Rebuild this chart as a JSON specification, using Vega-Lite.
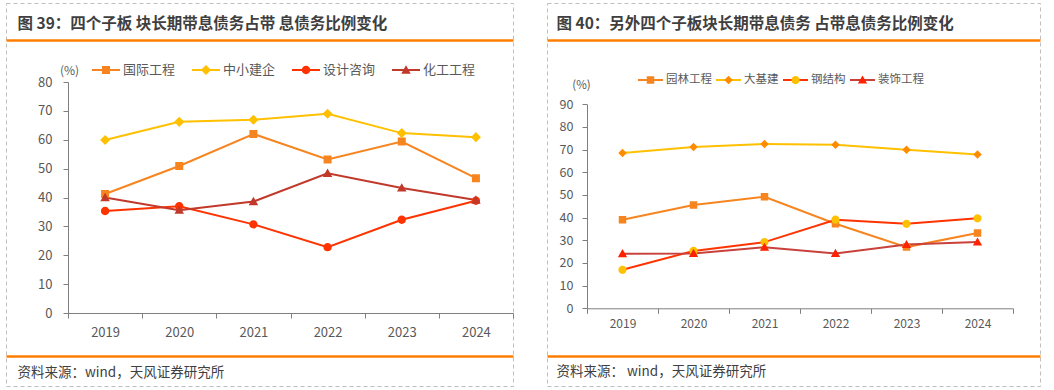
{
  "$schema": "https://vega.github.io/schema/vega-lite/v6.json",
  "background": "white",
  "padding": {"left": 5, "top": 2, "right": 15, "bottom": 5},
  "spacing": 34,
  "bounds": "flush",
  "datasets": {
    "left": [
      {"year": "2019", "series": "国际工程", "value": 41.2},
      {"year": "2020", "series": "国际工程", "value": 50.9},
      {"year": "2021", "series": "国际工程", "value": 62.0},
      {"year": "2022", "series": "国际工程", "value": 53.2},
      {"year": "2023", "series": "国际工程", "value": 59.4},
      {"year": "2024", "series": "国际工程", "value": 46.7},
      {"year": "2019", "series": "中小建企", "value": 59.9},
      {"year": "2020", "series": "中小建企", "value": 66.2},
      {"year": "2021", "series": "中小建企", "value": 66.9},
      {"year": "2022", "series": "中小建企", "value": 69.0},
      {"year": "2023", "series": "中小建企", "value": 62.3},
      {"year": "2024", "series": "中小建企", "value": 60.9},
      {"year": "2019", "series": "设计咨询", "value": 35.3},
      {"year": "2020", "series": "设计咨询", "value": 37.0},
      {"year": "2021", "series": "设计咨询", "value": 30.7},
      {"year": "2022", "series": "设计咨询", "value": 22.8},
      {"year": "2023", "series": "设计咨询", "value": 32.3},
      {"year": "2024", "series": "设计咨询", "value": 38.9},
      {"year": "2019", "series": "化工工程", "value": 40.0},
      {"year": "2020", "series": "化工工程", "value": 35.6},
      {"year": "2021", "series": "化工工程", "value": 38.6},
      {"year": "2022", "series": "化工工程", "value": 48.4},
      {"year": "2023", "series": "化工工程", "value": 43.3},
      {"year": "2024", "series": "化工工程", "value": 39.1}
    ],
    "right": [
      {"year": "2019", "series": "园林工程", "value": 39.1},
      {"year": "2020", "series": "园林工程", "value": 45.6},
      {"year": "2021", "series": "园林工程", "value": 49.2},
      {"year": "2022", "series": "园林工程", "value": 37.3},
      {"year": "2023", "series": "园林工程", "value": 27.0},
      {"year": "2024", "series": "园林工程", "value": 33.2},
      {"year": "2019", "series": "大基建", "value": 68.5},
      {"year": "2020", "series": "大基建", "value": 71.2},
      {"year": "2021", "series": "大基建", "value": 72.5},
      {"year": "2022", "series": "大基建", "value": 72.2},
      {"year": "2023", "series": "大基建", "value": 70.0},
      {"year": "2024", "series": "大基建", "value": 67.9},
      {"year": "2019", "series": "钢结构", "value": 17.0},
      {"year": "2020", "series": "钢结构", "value": 25.3},
      {"year": "2021", "series": "钢结构", "value": 29.2},
      {"year": "2022", "series": "钢结构", "value": 39.1},
      {"year": "2023", "series": "钢结构", "value": 37.3},
      {"year": "2024", "series": "钢结构", "value": 39.7},
      {"year": "2019", "series": "装饰工程", "value": 24.1},
      {"year": "2020", "series": "装饰工程", "value": 24.2},
      {"year": "2021", "series": "装饰工程", "value": 26.9},
      {"year": "2022", "series": "装饰工程", "value": 24.2},
      {"year": "2023", "series": "装饰工程", "value": 28.1},
      {"year": "2024", "series": "装饰工程", "value": 29.2}
    ]
  },
  "hconcat": [
    {
      "width": 507,
      "height": 383,
      "data": {"name": "left"},
      "layer": [
        {
          "mark": {"type": "text"},
          "encoding": {
            "x": {"field": "year", "type": "ordinal", "scale": {"type": "band", "range": [0, 507]},
              "axis": {"orient": "top", "offset": -37, "labels": false, "ticks": false, "grid": false,
                "domainColor": "#FF7E00", "domainWidth": 2.5,
                "title": "图 39：四个子板 块长期带息债务占带 息债务比例变化",
                "titleX": 11, "titleY": -17, "titleAlign": "left", "titleBaseline": "middle",
                "titleFontSize": 15.5, "titleFontWeight": "bold", "titleColor": "#3F3F3F"}},
            "text": {"value": ""}
          }
        },
        {
          "mark": {"type": "text"},
          "encoding": {
            "x": {"field": "year", "type": "ordinal", "scale": {"type": "band", "range": [0, 507]},
              "axis": {"orient": "bottom", "offset": -30, "labels": false, "ticks": false, "grid": false,
                "domainColor": "#FF7E00", "domainWidth": 2.5,
                "title": "资料来源：wind，天风证券研究所",
                "titleX": 11, "titleY": 16, "titleAlign": "left", "titleBaseline": "middle",
                "titleFontSize": 13.5, "titleFontWeight": "normal", "titleColor": "#404040"}},
            "text": {"value": ""}
          }
        },
        {
          "encoding": {
            "x": {"field": "year", "type": "ordinal",
              "scale": {"type": "band", "range": [62, 507], "paddingInner": 0, "paddingOuter": 0},
              "axis": {"orient": "bottom", "offset": -73, "title": null, "labelAngle": 0, "tickBand": "extent",
                "domainColor": "#7F7F7F", "tickColor": "#7F7F7F", "tickSize": 5, "labelPadding": 8,
                "labelFontSize": 13, "labelColor": "#595959", "grid": false}},
            "y": {"field": "value", "type": "quantitative",
              "scale": {"domain": [0, 80], "range": [310, 79]},
              "axis": {"orient": "left", "offset": -62, "values": [0, 10, 20, 30, 40, 50, 60, 70, 80], "grid": false,
                "domainColor": "#7F7F7F", "tickColor": "#7F7F7F", "tickSize": 5, "labelPadding": 11,
                "labelFontSize": 13, "labelColor": "#595959",
                "title": "(%)", "titleAngle": 0, "titleX": 1, "titleY": 67, "titleAlign": "center",
                "titleBaseline": "middle", "titleFontSize": 12, "titleFontWeight": "normal", "titleColor": "#595959"}}
          },
          "layer": [
            {
              "mark": {"type": "line", "strokeWidth": 2},
              "encoding": {
                "color": {"field": "series", "type": "nominal",
                  "scale": {"domain": ["国际工程", "中小建企", "设计咨询", "化工工程"], "range": ["#F7851F", "#FFC000", "#FF3300", "#C0392B"]},
                  "legend": {"orient": "none", "legendX": 85, "legendY": 60, "direction": "horizontal", "columns": 4,
                    "title": null, "symbolType": "M-1,0L1,0", "symbolSize": 784, "symbolStrokeWidth": 2,
                    "labelFontSize": 13, "labelColor": "#595959", "labelOffset": 2, "columnPadding": 15,
                    "clipHeight": 14, "padding": 0}}
              }
            },
            {
              "mark": {"type": "point", "filled": true, "opacity": 1, "size": 784, "strokeWidth": 0},
              "encoding": {
                "fill": {"field": "series", "type": "nominal",
                  "scale": {"domain": ["国际工程", "中小建企", "设计咨询", "化工工程"], "range": ["#F7851F", "#FFC000", "#FF3300", "#C0392B"]},
                  "legend": {"orient": "none", "legendX": 85, "legendY": 60, "direction": "horizontal", "columns": 4,
                    "title": null, "symbolSize": 784, "symbolStrokeWidth": 2, "symbolStrokeColor": "transparent",
                    "labelFontSize": 13, "labelOpacity": 0, "labelOffset": 2, "columnPadding": 15,
                    "clipHeight": 14, "padding": 0}},
                "shape": {"field": "series", "type": "nominal",
                  "scale": {"domain": ["国际工程", "中小建企", "设计咨询", "化工工程"],
                    "range": [
                      "M-1,0L1,0M-0.286,-0.286L0.286,-0.286L0.286,0.286L-0.286,0.286Z",
                      "M-1,0L1,0M-0.36,0L0,-0.36L0.36,0L0,0.36Z",
                      "M-1,0L1,0M-0.3,0A0.3,0.3 0 1,0 0.3,0A0.3,0.3 0 1,0 -0.3,0Z",
                      "M-1,0L1,0M-0.34,0.26L0,-0.34L0.34,0.26Z"
                    ]},
                  "legend": {"orient": "none", "legendX": 85, "legendY": 60, "direction": "horizontal", "columns": 4,
                    "title": null, "symbolSize": 784, "symbolStrokeWidth": 2, "symbolStrokeColor": "transparent",
                    "labelFontSize": 13, "labelOpacity": 0, "labelOffset": 2, "columnPadding": 15,
                    "clipHeight": 14, "padding": 0}}
              }
            }
          ],
          "resolve": {"scale": {"fill": "independent", "shape": "independent"}, "legend": {"fill": "independent", "shape": "independent"}}
        }
      ],
      "resolve": {"scale": {"x": "independent"}, "axis": {"x": "independent"}}
    },
    {
      "width": 493,
      "height": 383,
      "data": {"name": "right"},
      "layer": [
        {
          "mark": {"type": "text"},
          "encoding": {
            "x": {"field": "year", "type": "ordinal", "scale": {"type": "band", "range": [0, 493]},
              "axis": {"orient": "top", "offset": -37, "labels": false, "ticks": false, "grid": false,
                "domainColor": "#FF7E00", "domainWidth": 2.5,
                "title": "图 40：另外四个子板块长期带息债务 占带息债务比例变化",
                "titleX": 9, "titleY": -17, "titleAlign": "left", "titleBaseline": "middle",
                "titleFontSize": 15.5, "titleFontWeight": "bold", "titleColor": "#3F3F3F"}},
            "text": {"value": ""}
          }
        },
        {
          "mark": {"type": "text"},
          "encoding": {
            "x": {"field": "year", "type": "ordinal", "scale": {"type": "band", "range": [0, 493]},
              "axis": {"orient": "bottom", "offset": -30, "labels": false, "ticks": false, "grid": false,
                "domainColor": "#FF7E00", "domainWidth": 2.5,
                "title": "资料来源： wind，天风证券研究所",
                "titleX": 9, "titleY": 15, "titleAlign": "left", "titleBaseline": "middle",
                "titleFontSize": 13.5, "titleFontWeight": "normal", "titleColor": "#404040"}},
            "text": {"value": ""}
          }
        },
        {
          "encoding": {
            "x": {"field": "year", "type": "ordinal",
              "scale": {"type": "band", "range": [40, 466], "paddingInner": 0, "paddingOuter": 0},
              "axis": {"orient": "bottom", "offset": -77.7, "title": null, "labelAngle": 0, "tickBand": "extent",
                "domainColor": "#7F7F7F", "tickColor": "#7F7F7F", "tickSize": 5, "labelPadding": 5,
                "labelFontSize": 12, "labelColor": "#595959", "grid": false}},
            "y": {"field": "value", "type": "quantitative",
              "scale": {"domain": [0, 90], "range": [305.3, 101.3]},
              "axis": {"orient": "left", "offset": -40, "values": [0, 10, 20, 30, 40, 50, 60, 70, 80, 90], "grid": false,
                "domainColor": "#7F7F7F", "tickColor": "#7F7F7F", "tickSize": 5, "labelPadding": 9,
                "labelFontSize": 12.5, "labelColor": "#595959",
                "title": "(%)", "titleAngle": 0, "titleX": -6, "titleY": 82, "titleAlign": "center",
                "titleBaseline": "middle", "titleFontSize": 11.5, "titleFontWeight": "normal", "titleColor": "#595959"}}
          },
          "layer": [
            {
              "mark": {"type": "line", "strokeWidth": 2},
              "encoding": {
                "color": {"field": "series", "type": "nominal",
                  "scale": {"domain": ["园林工程", "大基建", "钢结构", "装饰工程"], "range": ["#F7851F", "#FFC000", "#FF3300", "#C8413B"]},
                  "legend": {"orient": "none", "legendX": 90, "legendY": 70, "direction": "horizontal", "columns": 4,
                    "title": null, "symbolType": "M-1,0L1,0", "symbolSize": 625, "symbolStrokeWidth": 2,
                    "labelFontSize": 11.5, "labelColor": "#595959", "labelOffset": 2, "columnPadding": 3,
                    "clipHeight": 14, "padding": 0}}
              }
            },
            {
              "mark": {"type": "point", "filled": true, "opacity": 1, "size": 625, "strokeWidth": 0},
              "encoding": {
                "fill": {"field": "series", "type": "nominal",
                  "scale": {"domain": ["园林工程", "大基建", "钢结构", "装饰工程"], "range": ["#F7851F", "#FF8C00", "#FFC000", "#FF2200"]},
                  "legend": {"orient": "none", "legendX": 90, "legendY": 70, "direction": "horizontal", "columns": 4,
                    "title": null, "symbolSize": 625, "symbolStrokeWidth": 2, "symbolStrokeColor": "transparent",
                    "labelFontSize": 11.5, "labelOpacity": 0, "labelOffset": 2, "columnPadding": 3,
                    "clipHeight": 14, "padding": 0}},
                "shape": {"field": "series", "type": "nominal",
                  "scale": {"domain": ["园林工程", "大基建", "钢结构", "装饰工程"],
                    "range": [
                      "M-1,0L1,0M-0.3,-0.3L0.3,-0.3L0.3,0.3L-0.3,0.3Z",
                      "M-1,0L1,0M-0.34,0L0,-0.34L0.34,0L0,0.34Z",
                      "M-1,0L1,0M-0.33,0A0.33,0.33 0 1,0 0.33,0A0.33,0.33 0 1,0 -0.33,0Z",
                      "M-1,0L1,0M-0.37,0.28L0,-0.37L0.37,0.28Z"
                    ]},
                  "legend": {"orient": "none", "legendX": 90, "legendY": 70, "direction": "horizontal", "columns": 4,
                    "title": null, "symbolSize": 625, "symbolStrokeWidth": 2, "symbolStrokeColor": "transparent",
                    "labelFontSize": 11.5, "labelOpacity": 0, "labelOffset": 2, "columnPadding": 3,
                    "clipHeight": 14, "padding": 0}}
              }
            }
          ],
          "resolve": {"scale": {"fill": "independent", "shape": "independent"}, "legend": {"fill": "independent", "shape": "independent"}}
        }
      ],
      "resolve": {"scale": {"x": "independent"}, "axis": {"x": "independent"}}
    }
  ],
  "resolve": {
    "scale": {"color": "independent", "fill": "independent", "shape": "independent"},
    "legend": {"color": "independent", "fill": "independent", "shape": "independent"}
  },
  "config": {
    "font": "Noto Sans CJK SC",
    "view": {"stroke": "#BFBFBF", "strokeDash": [4, 3], "strokeWidth": 1},
    "axis": {"labelFont": "Noto Sans CJK SC", "titleFont": "Noto Sans CJK SC", "domainWidth": 1, "tickWidth": 1},
    "legend": {"labelFont": "Noto Sans CJK SC"}
  }
}
